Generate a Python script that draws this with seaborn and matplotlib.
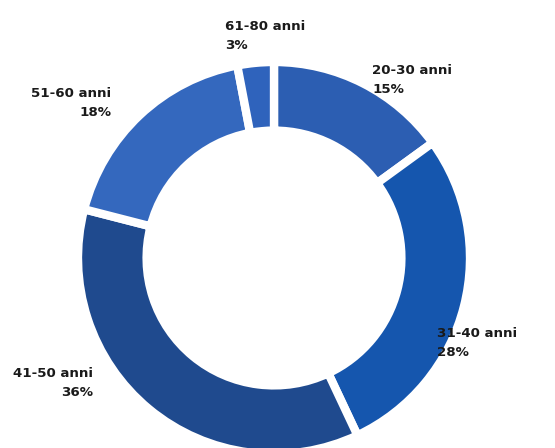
import matplotlib
matplotlib.use("Agg")
import matplotlib.pyplot as plt
import seaborn as sns

# Age groups and shares (%), clockwise from the top
age_groups = ["20-30 anni", "31-40 anni", "41-50 anni", "51-60 anni", "61-80 anni"]
shares = [15, 28, 36, 18, 3]
colors = ["#2C5EB2", "#1556AE", "#1F4A8E", "#3468BE", "#2F63BC"]

# label anchors in pixels (x, y of middle between the two lines) and alignment
label_pos = [(372, 80, "left"), (437, 343, "left"), (93, 383, "right"),
             (111, 103, "right"), (225, 36, "left")]

sns.set_theme(style="white")
plt.rcParams["font.family"] = ["Liberation Sans Narrow", "DejaVu Sans"]

W, H = 555, 448
fig = plt.figure(figsize=(W / 100, H / 100), dpi=100)
cx, cy, r = 274, 258, 196
ax = fig.add_axes([(cx - r) / W, (H - cy - r) / H, 2 * r / W, 2 * r / H])

ax.pie(shares, colors=colors, startangle=90, counterclock=False,
       radius=1, wedgeprops=dict(width=0.35, edgecolor="white", linewidth=6))
ax.set_xlim(-1, 1)
ax.set_ylim(-1, 1)
ax.set_aspect("auto")
ax.axis("off")

for name, val, (px, py, ha) in zip(age_groups, shares, label_pos):
    fig.text(px / W, 1 - py / H, f"{name}\n{val}%", ha=ha, va="center",
             multialignment=ha, fontsize=9.6, fontweight="bold",
             color="#1a1a1a", linespacing=1.55)

fig.savefig("out.png", dpi=100)
